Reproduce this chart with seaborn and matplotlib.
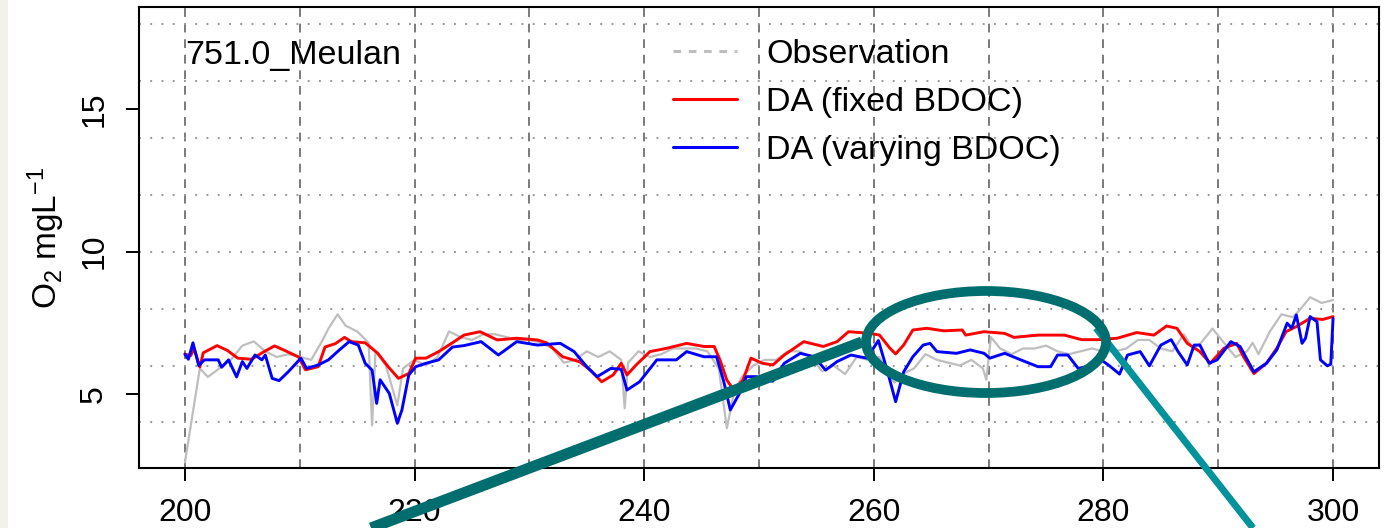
import numpy as np
import pandas as pd
import matplotlib
matplotlib.use("Agg")
import matplotlib.pyplot as plt
import seaborn as sns
from matplotlib.lines import Line2D
from matplotlib.patches import Ellipse, Rectangle

# ---------------- data ----------------
station = "751.0_Meulan"

obs_day = [200.0, 201.3, 202.0, 203.0, 204.0, 205.0, 206.0, 207.0, 208.0, 209.0, 210.0, 211.0,
           212.0, 212.5, 213.3, 214.0, 215.0, 216.0, 216.3, 216.6, 217.5, 218.5, 219.0, 220.0,
           221.0, 222.0, 223.0, 224.0, 225.0, 226.0, 227.0, 228.0, 229.0, 230.0, 231.0, 232.0,
           233.0, 234.0, 235.0, 236.0, 237.0, 238.0, 238.3, 238.6, 239.5, 240.5, 241.5, 242.5,
           243.5, 244.5, 245.5, 246.5, 247.2, 247.8, 248.5, 249.5, 250.5, 251.5, 252.5, 253.5,
           254.5, 255.5, 256.5, 257.5, 258.5, 259.5, 260.5, 261.0, 261.8, 262.5, 263.5, 264.5,
           265.5, 266.5, 267.5, 268.5, 269.5, 269.8, 270.2, 271.0, 272.0, 273.0, 274.0, 275.0,
           276.0, 277.0, 278.0, 279.0, 280.0, 281.0, 282.0, 283.0, 284.0, 285.0, 286.0, 287.0,
           287.8, 288.5, 289.5, 290.5, 291.5, 292.5, 293.0, 293.5, 294.5, 295.5, 296.5, 297.2,
           298.0, 299.0, 300.0]
obs_o2 = [2.6, 5.9, 5.6, 5.9, 6.2, 6.7, 6.85, 6.5, 6.3, 6.4, 6.3, 6.2,
          6.9, 7.3, 7.8, 7.4, 7.2, 6.8, 3.9, 6.5, 6.0, 4.6, 5.9, 6.2,
          6.0, 6.3, 7.2, 7.0, 6.9, 7.1, 7.1, 7.0, 6.9, 6.9, 6.8, 6.6,
          6.1, 6.2, 6.5, 6.3, 6.5, 6.2, 4.5, 6.1, 6.5, 6.3, 6.4, 6.6,
          6.6, 6.6, 6.5, 5.9, 3.8, 5.0, 5.6, 6.0, 6.2, 6.2, 6.5, 6.5,
          6.3, 5.8, 6.0, 5.7, 6.3, 6.2, 6.3, 5.8, 5.4, 5.7, 5.9, 6.4,
          6.2, 6.1, 6.0, 6.2, 5.9, 5.5, 7.0, 6.6, 6.4, 6.6, 6.6, 6.7,
          6.5, 6.4, 6.5, 6.6, 6.5, 6.5, 6.6, 6.9, 6.9, 6.6, 6.5, 7.1,
          6.6, 6.8, 7.3, 6.8, 6.3, 6.5, 6.8, 6.4, 7.2, 7.8, 7.7, 8.0,
          8.4, 8.2, 8.3]

fixed_day = [200.0, 200.5, 200.8, 201.3, 201.6, 202.8, 203.7, 204.6, 205.8, 206.9, 207.8, 208.7,
             209.9, 210.5, 211.6, 212.2, 213.1, 213.9, 214.5, 215.7, 216.8, 217.7, 218.6, 219.5,
             220.1, 221.0, 222.1, 223.3, 224.3, 225.7, 227.2, 228.9, 230.7, 231.5, 232.9, 234.4,
             235.3, 236.3, 237.3, 238.0, 238.5, 239.3, 240.5, 242.0, 243.7, 245.2, 246.1, 246.6,
             247.2, 247.8, 248.6, 249.3, 250.3, 251.2, 252.2, 253.9, 255.6, 256.8, 257.8, 259.7,
             260.5, 261.4, 261.9, 262.6, 263.4, 264.6, 266.1, 267.7, 268.0, 269.6, 271.4, 272.2,
             274.3, 276.6, 278.1, 279.5, 281.2, 282.9, 284.4, 285.5, 286.4, 287.3, 288.4, 289.3,
             290.5, 291.6, 292.2, 293.1, 294.2, 295.1, 295.9, 296.8, 298.0, 299.1, 300.0]
fixed_o2 = [6.40, 6.35, 6.60, 5.95, 6.45, 6.70, 6.53, 6.26, 6.22, 6.49, 6.69, 6.53,
            6.30, 5.85, 5.96, 6.65, 6.77, 6.99, 6.84, 6.80, 6.43, 5.96, 5.55, 5.72,
            6.26, 6.26, 6.49, 6.80, 7.07, 7.19, 6.90, 6.96, 6.90, 6.80, 6.31, 6.13,
            5.84, 5.43, 5.67, 6.08, 5.67, 6.02, 6.49, 6.61, 6.78, 6.67, 6.67, 6.20,
            5.49, 5.14, 5.49, 6.26, 6.08, 6.02, 6.37, 6.84, 6.67, 6.84, 7.19, 7.13,
            7.07, 6.61, 6.41, 6.72, 7.25, 7.31, 7.22, 7.25, 7.07, 7.19, 7.13, 6.99,
            7.07, 7.07, 6.91, 6.91, 6.96, 7.16, 7.07, 7.39, 7.31, 6.78, 6.49, 6.08,
            6.61, 6.78, 6.31, 5.72, 6.08, 6.61, 7.19, 7.37, 7.66, 7.62, 7.72]

vary_day = [200.0, 200.3, 200.7, 201.2, 201.7, 202.9, 203.2, 203.8, 204.5, 205.0, 205.4, 206.1,
            206.7, 207.0, 207.6, 208.2, 209.0, 210.1, 210.6, 211.6, 212.5, 213.4, 214.3, 215.1,
            215.7, 216.3, 216.7, 217.0, 217.8, 218.5, 218.9, 219.5, 220.1, 221.0, 222.1, 223.3,
            224.3, 225.8, 227.3, 228.9, 230.7, 232.7, 233.9, 235.0, 235.9, 237.1, 238.0, 238.5,
            239.6, 241.1, 242.8, 243.7, 245.2, 246.3, 246.9, 247.5, 248.3, 248.9, 249.8, 250.5,
            251.2, 252.2, 253.6, 254.8, 255.8, 256.8, 258.0, 259.4, 260.4, 261.2, 261.9, 262.6,
            263.4, 264.3, 264.9, 265.5, 267.2, 268.4, 269.6, 270.1, 271.4, 272.8, 274.3, 275.4,
            276.0, 276.9, 277.8, 279.0, 279.8, 280.5, 281.4, 282.1, 283.2, 284.0, 285.0, 285.9,
            286.5, 287.3, 287.9, 288.4, 289.2, 289.9, 291.1, 291.9, 293.1, 294.2, 295.1, 296.0,
            296.4, 296.8, 297.3, 297.6, 298.0, 298.6, 298.9, 299.5, 299.8, 300.0]
vary_o2 = [6.40, 6.22, 6.80, 6.00, 6.20, 6.20, 5.94, 6.20, 5.60, 6.14, 5.90, 6.37,
           6.20, 6.37, 5.55, 5.47, 5.78, 6.26, 5.90, 6.02, 6.20, 6.53, 6.84, 6.72,
           6.08, 5.84, 4.67, 5.50, 5.02, 3.97, 4.44, 5.67, 5.96, 6.08, 6.20, 6.65,
           6.70, 6.84, 6.37, 6.84, 6.72, 6.78, 6.49, 5.96, 5.61, 5.90, 5.87, 5.14,
           5.43, 6.20, 6.20, 6.49, 6.31, 6.31, 5.49, 4.44, 5.02, 5.61, 5.61, 5.50,
           5.45, 6.08, 6.43, 6.31, 5.84, 6.14, 6.37, 6.26, 6.88, 5.78, 4.73, 5.78,
           6.31, 6.72, 6.78, 6.49, 6.43, 6.55, 6.43, 6.26, 6.43, 6.20, 5.96, 5.96,
           6.37, 6.37, 5.90, 6.00, 6.20, 6.00, 5.70, 6.37, 6.49, 5.99, 6.72, 6.91,
           6.49, 6.02, 6.72, 6.72, 6.08, 6.20, 6.84, 6.67, 5.78, 6.08, 6.55, 7.49,
           7.31, 7.78, 6.78, 6.96, 7.72, 7.54, 6.20, 5.99, 6.05, 7.66]

series_labels = ["Observation", "DA (fixed BDOC)", "DA (varying BDOC)"]
x_ticks = [200, 220, 240, 260, 280, 300]
y_ticks = [5, 10, 15]
x_grid = [200, 210, 220, 230, 240, 250, 260, 270, 280, 290, 300]
y_grid = [4, 6, 8, 10, 12, 14, 16, 18]

# ---------------- style ----------------
sns.set_style("white")
plt.rcParams["font.family"] = ["Liberation Sans", "DejaVu Sans"]
plt.rcParams["mathtext.fontset"] = "custom"
plt.rcParams["mathtext.rm"] = "Liberation Sans"
plt.rcParams["mathtext.it"] = "Liberation Sans"
plt.rcParams["mathtext.default"] = "regular"
plt.rcParams["text.color"] = "black"
plt.rcParams["axes.labelcolor"] = "black"
plt.rcParams["xtick.color"] = "black"
plt.rcParams["ytick.color"] = "black"

W, H = 1392, 528
fig = plt.figure(figsize=(W / 100, H / 100), dpi=100)
fig.patch.set_facecolor("white")
ax = fig.add_axes([139 / W, 1 - 468 / H, (1379 - 139) / W, (468 - 7) / H])

obs_df = pd.DataFrame({"day": obs_day, "o2": obs_o2})
fix_df = pd.DataFrame({"day": fixed_day, "o2": fixed_o2})
var_df = pd.DataFrame({"day": vary_day, "o2": vary_o2})

c_obs, c_fix, c_var = "#BEBEBE", "#FF0000", "#0000FF"

for gx in x_grid:
    ax.axvline(gx, color="#7A7A7A", lw=1.4, ls=(0, (4.5, 3.5)), zorder=0.5)
for gy in y_grid:
    ax.axhline(gy, color="#9A9A9A", lw=1.5, ls=(0, (0.9, 4.5)), zorder=0.5)

sns.lineplot(data=obs_df, x="day", y="o2", ax=ax, color=c_obs, lw=1.6,
             estimator=None, sort=False, zorder=2)
sns.lineplot(data=fix_df, x="day", y="o2", ax=ax, color=c_fix, lw=2.1,
             estimator=None, sort=False, zorder=3)
sns.lineplot(data=var_df, x="day", y="o2", ax=ax, color=c_var, lw=2.1,
             estimator=None, sort=False, zorder=4)

ax.set_xlim(196, 304)
ax.set_ylim(2.4, 18.6)
ax.set_xticks(x_ticks)
ax.set_yticks(y_ticks)
ax.set_xticklabels([str(v) for v in x_ticks])
ax.set_yticklabels([str(v) for v in y_ticks], rotation=90, va="center")
ax.tick_params(axis="both", which="major", direction="out", length=9.5, width=1.4,
               color="black", labelcolor="black", labelsize=23, left=True, bottom=True)
ax.tick_params(axis="x", pad=12)
ax.tick_params(axis="y", pad=12)
for s in ax.spines.values():
    s.set_visible(True)
    s.set_color("black")
    s.set_linewidth(1.5)
ax.set_xlabel("")
ax.set_ylabel(r"O$_2$ mgL$^{-1}$", fontsize=24, color="black")
ax.yaxis.set_label_coords(-0.058, 0.5)

ax.text(0.037, 0.895, station, transform=ax.transAxes, fontsize=24.5,
        ha="left", va="center", color="black")

handles = [Line2D([], [], color=c_obs, lw=2.2, ls=(0, (2.5, 2.5))),
           Line2D([], [], color=c_fix, lw=2.2),
           Line2D([], [], color=c_var, lw=2.2)]
leg = ax.legend(handles, series_labels, loc="upper left", frameon=False,
                bbox_to_anchor=(673 / W, 1 - 39 / H), bbox_transform=fig.transFigure,
                borderaxespad=0, borderpad=0, fontsize=24.5, handlelength=1.88,
                handletextpad=0.85, labelspacing=0.5)
for t in leg.get_texts():
    t.set_color("black")

# ---------------- overlay annotation ----------------
teal = "#006D6E"
teal2 = "#00939C"
fig.add_artist(Rectangle((0, 0), 8 / W, 1, transform=fig.transFigure,
                         facecolor="#F3F2EA", edgecolor="none", zorder=0))
fig.add_artist(Line2D([371 / W, 862 / W], [1 - 528 / H, 1 - 342 / H],
                      transform=fig.transFigure, color=teal, lw=8, zorder=10,
                      solid_capstyle="butt"))
fig.add_artist(Line2D([1096 / W, 1253 / W], [1 - 328 / H, 1 - 528 / H],
                      transform=fig.transFigure, color=teal2, lw=5, zorder=10,
                      solid_capstyle="butt"))
fig.add_artist(Ellipse((986 / W, 1 - 342 / H), 240 / W, 102 / H,
                       transform=fig.transFigure, facecolor="none",
                       edgecolor=teal, lw=7, zorder=11))

fig.savefig("out.png", dpi=100)
